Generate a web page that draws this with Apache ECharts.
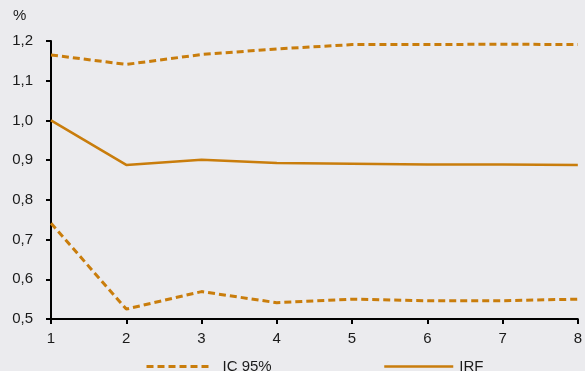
<!DOCTYPE html>
<html>
<head>
<meta charset="utf-8">
<script src="https://cdn.jsdelivr.net/npm/echarts@6/dist/echarts.min.js"></script>
<style>
html,body{margin:0;padding:0;background:#EBEBEE;}
#c{width:585px;height:371px;}
</style>
</head>
<body>
<div id="c"></div>
<script>
var categories = ['1','2','3','4','5','6','7','8'];
var irf = [1.000, 0.888, 0.901, 0.893, 0.891, 0.889, 0.889, 0.888];
var upper = [1.165, 1.141, 1.166, 1.180, 1.191, 1.191, 1.192, 1.191];
var lower = [0.741, 0.525, 0.569, 0.541, 0.550, 0.546, 0.546, 0.550];
var yTicks = {min: 0.5, max: 1.2, interval: 0.1};

var color = '#C97D0C';
var chart = echarts.init(document.getElementById('c'), null, {renderer: 'canvas'});
var font = 'Liberation Sans, Arial, sans-serif';
var txt = '#1a1a1a';
chart.setOption({
  backgroundColor: '#EBEBEE',
  animation: false,
  grid: {left: 51, right: 1, top: 41, bottom: 52, containLabel: false},
  graphic: [{type: 'text', left: 13, top: 8, style: {text: '%', font: '15px ' + font, fill: txt}}],
  legend: [
    {data: ['IC 95%'], left: 145, top: 359, padding: 0, itemWidth: 66, itemHeight: 14, itemGap: 0,
     itemStyle: {opacity: 0}, lineStyle: {width: 3},
     textStyle: {fontFamily: font, fontSize: 15, color: txt, padding: [0, 0, 0, 5]}},
    {data: ['IRF'], left: 383, top: 359, padding: 0, itemWidth: 69, itemHeight: 14,
     itemStyle: {opacity: 0}, lineStyle: {width: 2.5},
     textStyle: {fontFamily: font, fontSize: 15, color: txt, padding: [0, 0, 0, 1]}}
  ],
  xAxis: {
    type: 'category', data: categories, boundaryGap: false,
    axisLine: {lineStyle: {color: '#000', width: 2}},
    axisTick: {alignWithLabel: true, length: 5, lineStyle: {color: '#000', width: 2}},
    axisLabel: {fontFamily: font, fontSize: 15, color: txt, margin: 12},
    splitLine: {show: false}
  },
  yAxis: {
    type: 'value', min: yTicks.min, max: yTicks.max, interval: yTicks.interval,
    axisLine: {show: true, lineStyle: {color: '#000', width: 2}},
    axisTick: {show: true, length: 5, lineStyle: {color: '#000', width: 2}},
    axisLabel: {fontFamily: font, fontSize: 15, color: txt, margin: 18,
      formatter: function (v) { return v.toFixed(1).replace('.', ','); }},
    splitLine: {show: false}
  },
  series: [
    {name: 'IC 95%', type: 'line', data: upper, symbol: 'none',
     lineStyle: {color: color, width: 3, type: [7, 4]}, itemStyle: {color: color}},
    {name: 'IC 95%', type: 'line', data: lower, symbol: 'none',
     lineStyle: {color: color, width: 3, type: [7, 4]}, itemStyle: {color: color}},
    {name: 'IRF', type: 'line', data: irf, symbol: 'none',
     lineStyle: {color: color, width: 2.5}, itemStyle: {color: color}}
  ]
});
</script>
</body>
</html>
